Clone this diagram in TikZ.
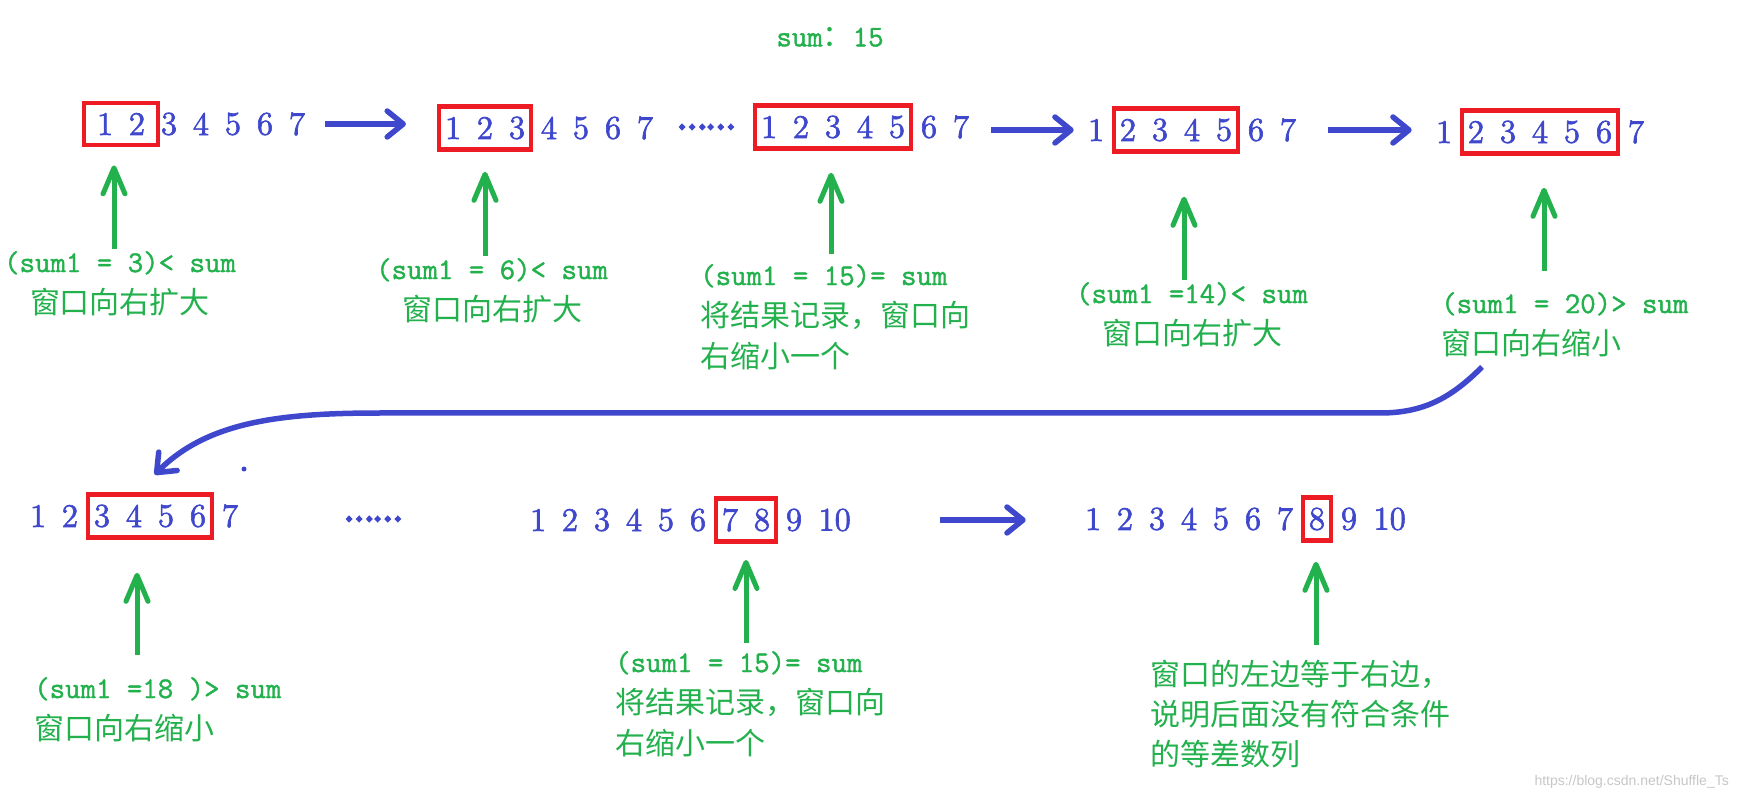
\documentclass[tikz,border=0pt]{standalone}
\usepackage{fontspec}
\usepackage{tikz}
\usetikzlibrary{arrows.meta,positioning,calc,fit}
\setmonofont{lmmono12-regular.otf}[FakeBold=1.3]
\newfontfamily\numfont{lmroman12-regular.otf}[FakeBold=2]
\newfontfamily\cjk{Noto Sans CJK SC}
\newfontfamily\dotfont{Noto Sans CJK SC}[FakeBold=9]
\newfontfamily\wmfont{Liberation Sans}
\definecolor{flowblue}{HTML}{3F48CC}
\definecolor{winred}{HTML}{ED1C24}
\definecolor{notegreen}{HTML}{22B14C}
\tikzset{num/.style={inner sep=0pt,text=flowblue,font=\numfont\fontsize{33}{40}\selectfont},win/.style={draw=winred,line width=4.5pt,inner xsep=5.5pt,inner ysep=10pt},ellip/.style={inner sep=0pt,text=flowblue,font=\dotfont\fontsize{27}{30}\selectfont},remark/.style={inner sep=0pt,text=notegreen,font=\ttfamily\fontsize{30}{41}\selectfont},flow/.style={draw=flowblue,line width=5.5pt,-{Straight Barb[length=16pt,width=26pt,round]}},rise/.style={draw=notegreen,line width=5pt,-{Straight Barb[length=26pt,width=22pt,round]}}}

\begin{document}
\begin{tikzpicture}[x=1pt,y=-1pt]
\path[use as bounding box,fill=white] (0,0) rectangle (1738,799);
\node[remark] (total) at (830,37) {sum{\cjk ：}15};
% the number rows
\foreach \g/\x/\y/\n in {a/105/124/7,b/453/128/7,c/769/127/7,d/1096/130/7,e/1444/132/7,f/38/516/7,g/538/520/9,h/1093/519/9}
  \foreach \i in {1,...,\n}
    \node[num] (\g\i) at ({\x+32*(\i-1)},\y) {\i};
\node[num,right=16pt of g9] (g10) {10};
\node[num,right=16pt of h9] (h10) {10};
\node[ellip] (gap1) at (706,127) {……};
\node[ellip] (gap2) at (373,519) {……};
% windows
\node[win,fit=(a1)(a2),inner xsep=12.5pt] (w1) {};
\node[win,fit=(b1)(b3)] (w2) {};
\node[win,fit=(c1)(c5)] (w3) {};
\node[win,fit=(d2)(d5)] (w4) {};
\node[win,fit=(e2)(e6)] (w5) {};
\node[win,fit=(f3)(f6)] (w6) {};
\node[win,fit=(g7)(g8)] (w7) {};
\node[win,fit=(h8)] (w8) {};
% remarks
\node[remark,anchor=north,align=center] (t1) at (120,251) {(sum1 = 3)< sum\\{\cjk 窗口向右扩大}};
\node[remark,anchor=north,align=center] (t2) at (492,258) {(sum1 = 6)< sum\\{\cjk 窗口向右扩大}};
\node[remark,anchor=north west,align=left] (t3) at (700,264) {(sum1 = 15)= sum\\{\cjk 将结果记录，窗口向}\\{\cjk 右缩小一个}};
\node[remark,anchor=north,align=center] (t4) at (1192,282) {(sum1 =14)< sum\\{\cjk 窗口向右扩大}};
\node[remark,anchor=north west,align=left] (t5) at (1441,292) {(sum1 = 20)> sum\\{\cjk 窗口向右缩小}};
\node[remark,anchor=north west,align=left] (t6) at (34,677) {(sum1 =18 )> sum\\{\cjk 窗口向右缩小}};
\node[remark,anchor=north west,align=left] (t7) at (615,651) {(sum1 = 15)= sum\\{\cjk 将结果记录，窗口向}\\{\cjk 右缩小一个}};
\node[remark,anchor=north west,align=left,font=\cjk\fontsize{30}{40}\selectfont] (t8) at (1150,660) {窗口的左边等于右边，\\说明后面没有符合条件\\的等差数列};
\node[anchor=east,inner sep=0pt,text=black!22,font=\wmfont\fontsize{14}{16}\selectfont] (mark) at (1729,782) {https://blog.csdn.net/Shuffle\_Ts};
% arrows
\draw[flow,shorten <=20pt,shorten >=31pt] (a7.east) -- (a7.east -| w2.west);
\draw[flow,shorten <=22pt,shorten >=14pt] (d1.west -| c7.east) -- (d1.west);
\draw[flow,shorten <=32pt,shorten >=24pt] (d7.east) -- (d7.east -| e1.west);
\draw[flow,shorten <=89pt,shorten >=59pt] (g10.east) -- (g10.east -| h1.west);
\coordinate (back) at (1482,367);
\draw[flow,shorten >=25pt] (back) to[out=-135,in=0] (1380,413) -- (380,413) to[out=180,in=45] ([xshift=-13pt]w6.north);
\fill[flowblue] (244,469) circle (2.5pt);
\foreach \w/\t/\dx/\lo/\hi in {w1/t1/-7/2/18,w2/t2/0/2/20,w3/t3/-2/10/22,w4/t4/8/2/43,w5/t5/4/21/32,w6/t6/-13/22/33,w7/t7/0/8/16,w8/t8/-1/15/19}
  \draw[rise,shorten <=\lo pt,shorten >=\hi pt] ($(\w.south |- \t.north)+(\dx,0)$) -- ($(\w.south)+(\dx,0)$);
\end{tikzpicture}
\end{document}
